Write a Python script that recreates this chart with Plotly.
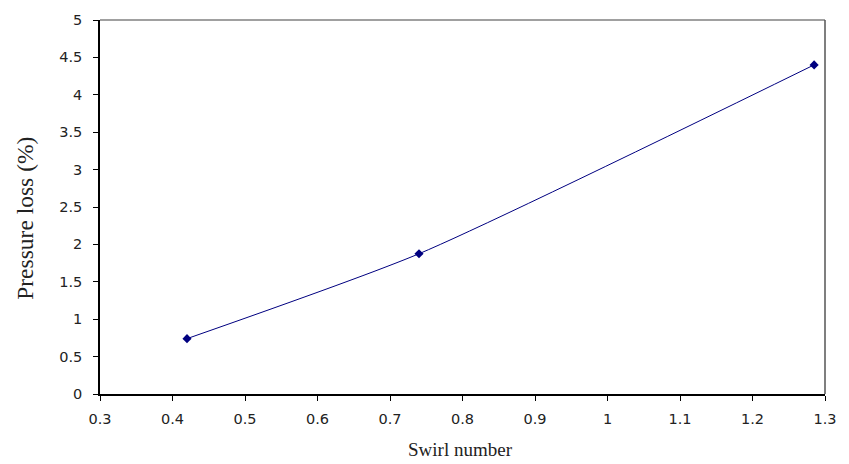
import plotly.graph_objects as go

swirl = [0.42, 0.74, 1.285]
loss = [0.74, 1.875, 4.40]
x_ticks = [0.3, 0.4, 0.5, 0.6, 0.7, 0.8, 0.9, 1.0, 1.1, 1.2, 1.3]
x_labels = ["0.3", "0.4", "0.5", "0.6", "0.7", "0.8", "0.9", "1", "1.1", "1.2", "1.3"]
y_ticks = [0, 0.5, 1, 1.5, 2, 2.5, 3, 3.5, 4, 4.5, 5]
y_labels = ["0", "0.5", "1", "1.5", "2", "2.5", "3", "3.5", "4", "4.5", "5"]

W, H = 849, 464
L, R, T, B = 100, 15, 16, 70
pw, ph = W - L - R, H - T - B

def px(x):
    return (x - L) / pw

def py(y):
    return (H - B - y) / ph

fig = go.Figure()
fig.add_trace(go.Scatter(
    x=swirl, y=loss, mode="lines+markers",
    line=dict(color="#000080", width=1, shape="spline", smoothing=0.6),
    marker=dict(symbol="diamond", size=7, color="#000080"),
    showlegend=False,
))

tickfont = dict(family="DejaVu Sans, Liberation Sans, Arial", size=14.5, color="#222")
fig.update_layout(
    width=W, height=H,
    margin=dict(l=L, r=R, t=T, b=B),
    paper_bgcolor="white", plot_bgcolor="white",
    xaxis=dict(
        range=[0.3, 1.3], tickvals=x_ticks, ticktext=x_labels, tickfont=tickfont,
        showgrid=False, zeroline=False, showline=True, linecolor="black", linewidth=1.5,
        ticks="outside", ticklen=5, tickcolor="black", ticklabelstandoff=6,
    ),
    yaxis=dict(
        range=[0, 5], tickvals=y_ticks, ticktext=y_labels, tickfont=tickfont,
        showgrid=False, zeroline=False, showline=True, linecolor="black", linewidth=1.5,
        ticks="outside", ticklen=5, tickcolor="black", ticklabelstandoff=8,
    ),
)
# top and right borders (gray)
fig.add_shape(type="line", xref="paper", yref="paper", x0=0, x1=1, y0=1, y1=1, line=dict(color="#808080", width=1.5))
fig.add_shape(type="line", xref="paper", yref="paper", x0=1, x1=1, y0=0, y1=1, line=dict(color="#555555", width=1.5))

titlefont = "Liberation Serif, Times New Roman"
fig.add_annotation(text="Swirl number", xref="paper", yref="paper", x=px(465), y=py(450),
                   xanchor="center", yanchor="middle", showarrow=False,
                   font=dict(family=titlefont, size=19, color="#222"))
fig.add_annotation(text="Pressure loss (%)", xref="paper", yref="paper", x=px(24), y=py(216),
                   xanchor="center", yanchor="middle", showarrow=False, textangle=-90,
                   font=dict(family=titlefont, size=23.5, color="#222"))

fig.write_html("out.html")
